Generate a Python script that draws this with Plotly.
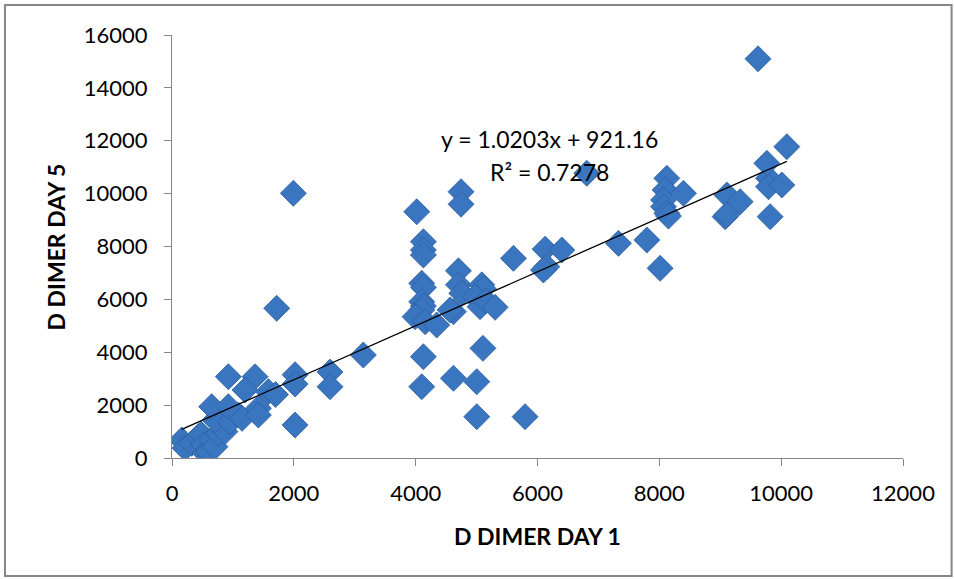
import plotly.graph_objects as go

# D-dimer values
day1 = [159, 213, 323, 432, 480, 520, 542, 597, 651, 706, 761, 837, 870, 706, 952, 1090, 1150,
        651, 925, 1418, 1418, 925, 1363, 1199, 1582, 1700, 2020, 2020, 2020, 2594, 2594, 3141,
        1719, 1992,
        4018, 4745, 4745, 4127, 4127, 4127, 5605, 4702, 4702, 4100, 4127, 5085, 5112, 4757, 4975,
        4100, 4127, 4100, 3990, 4155, 4346, 4620, 4565, 5057, 5150, 5304, 4127, 5104, 4100, 4620,
        5003, 5003, 5796,
        6125, 6399, 6152, 6097, 7329, 7795, 8013, 6809, 8123, 8095, 8396, 8068, 8068, 8123, 9108,
        9327, 9080, 9792, 9792, 10011, 9819, 9765, 10093, 9620, 9108, 8150]
day5 = [680, 378, 554, 806, 900, 500, 189, 239, 680, 428, 934, 1184, 1000, 1437, 1373, 1626, 1500,
        1941, 1941, 1879, 1626, 3075, 3075, 2572, 2508, 2400, 3150, 2800, 1248, 3250, 2697, 3896,
        5662, 10012,
        9316, 10072, 9600, 8181, 7867, 7678, 7552, 7080, 6550, 6607, 6450, 6550, 6400, 6229, 6100,
        5913, 5750, 5598, 5346, 5156, 5030, 5534, 5600, 5724, 5950, 5700, 3831, 4148, 2697, 3015,
        2887, 1562, 1562,
        7900, 7867, 7235, 7110, 8120, 8245, 7175, 10768, 10578, 10136, 10012, 9758, 9505, 9253, 9947,
        9695, 9127, 10578, 10262, 10325, 9127, 11146, 11775, 15100, 9200, 9150]

slope = 1.0203
intercept = 921.16
r2 = 0.7278

x_ticks = [0, 2000, 4000, 6000, 8000, 10000, 12000]
y_ticks = [0, 2000, 4000, 6000, 8000, 10000, 12000, 14000, 16000]

FONT = "Lato, Carlito, Calibri, sans-serif"

fig = go.Figure()

fig.add_trace(go.Scatter(
    x=day1, y=day5, mode="markers",
    marker=dict(symbol="diamond", size=20, color="#3A76C0",
                line=dict(color="#2C5E9E", width=0.8)),
    showlegend=False, hoverinfo="x+y"))

x_line = [min(day1), max(day1)]
y_line = [slope * v + intercept for v in x_line]
fig.add_trace(go.Scatter(x=x_line, y=y_line, mode="lines",
                         line=dict(color="black", width=1.3),
                         showlegend=False, hoverinfo="skip"))

axis_common = dict(showgrid=False, zeroline=False, showline=True,
                   linecolor="#868686", linewidth=1, ticks="outside",
                   ticklen=7, tickcolor="#868686",
                   tickfont=dict(family=FONT, size=22, color="black"))

fig.update_xaxes(range=[0, 12000], tickvals=x_ticks,
                 ticktext=[str(v) for v in x_ticks], ticklabelstandoff=9,
                 **axis_common)
fig.update_yaxes(range=[0, 16000], tickvals=y_ticks,
                 ticktext=[str(v) for v in y_ticks], ticklabelstandoff=12,
                 **axis_common)

fig.add_annotation(x=6190, y=12065, xref="x", yref="y",
                   text=f"y = {slope}x + {intercept}", showarrow=False,
                   xanchor="center", yanchor="middle",
                   font=dict(family=FONT, size=23, color="black"))
fig.add_annotation(x=6190, y=10817, xref="x", yref="y",
                   text=f"R² = {r2}", showarrow=False,
                   xanchor="center", yanchor="middle",
                   font=dict(family=FONT, size=23, color="black"))

# axis titles
fig.add_annotation(x=0.5, y=-0.185, xref="paper", yref="paper",
                   text="<b>D DIMER DAY 1</b>", showarrow=False,
                   xanchor="center", yanchor="middle",
                   font=dict(family=FONT, size=23, color="black"))
fig.add_annotation(x=-0.1587, y=0.5, xref="paper", yref="paper",
                   text="<b>D DIMER DAY 5</b>", showarrow=False, textangle=-90,
                   xanchor="center", yanchor="middle",
                   font=dict(family=FONT, size=23, color="black"))

# chart border
fig.add_shape(type="rect", xref="paper", yref="paper",
              x0=-0.2285, x1=1.0665, y0=-0.279, y1=1.071,
              line=dict(color="#868686", width=2), fillcolor="rgba(0,0,0,0)")

fig.update_layout(width=954, height=579,
                  margin=dict(l=172, r=51, t=35, b=121),
                  paper_bgcolor="white", plot_bgcolor="white")

fig.write_html("out.html", config={"displayModeBar": False},
               post_script="document.body.style.margin='0';document.body.style.overflow='hidden';")
